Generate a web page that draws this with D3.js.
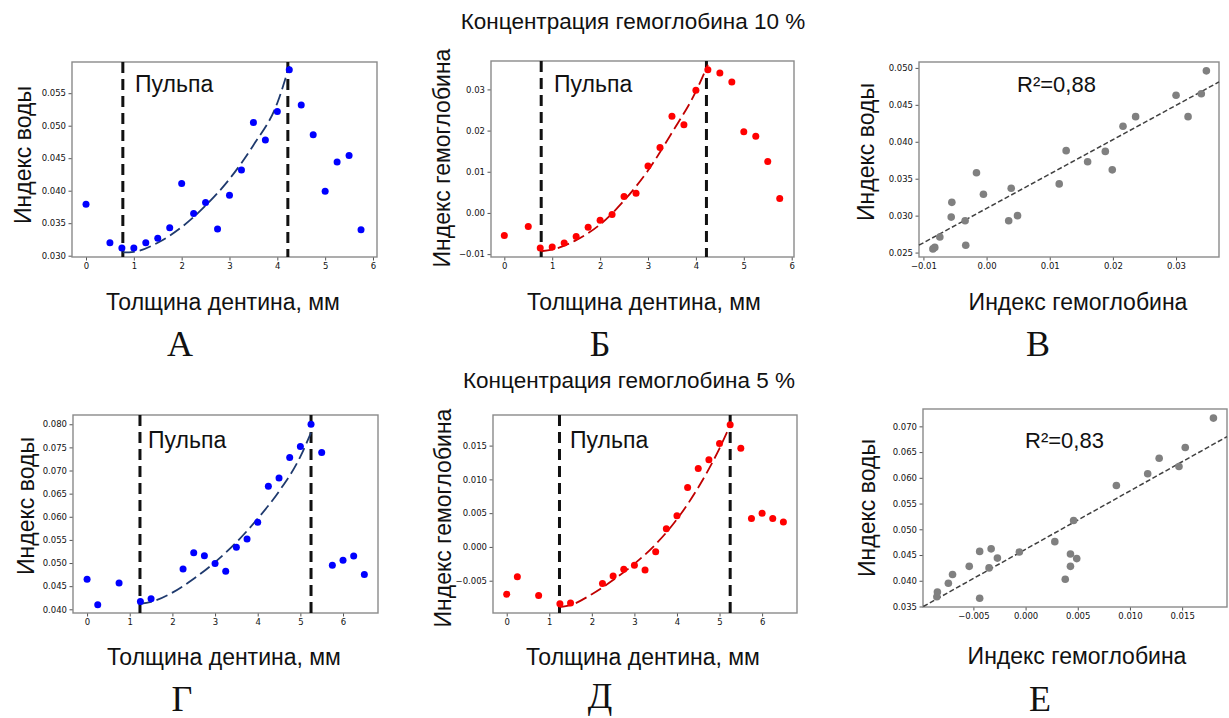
<!DOCTYPE html>
<html>
<head>
<meta charset="utf-8">
<title>Концентрация гемоглобина</title>
<style>
	body { margin: 0; background: #fff; }
	.tick text { font-family: "DejaVu Sans", sans-serif; font-size: 8.5px; fill: #111; }
	.tick line { stroke: #555; }
	.domain { display: none; }
	.lbl { font-family: "Liberation Sans", Arial, sans-serif; fill: #111; }
	.letter { font-family: "Liberation Serif", "Times New Roman", serif; font-size: 36px; fill: #111; }
</style>
</head>
<body>
<svg id="svg" width="1229" height="718"></svg>
<script src="https://cdn.jsdelivr.net/npm/d3@7"></script>
<script>
// ---- data ----
// 10 % hemoglobin
const thick10 = [0, 0.5, 0.75, 1, 1.25, 1.5, 1.75, 2, 2.25, 2.5, 2.75, 3, 3.25, 3.5, 3.75, 4, 4.25, 4.5, 4.75, 5, 5.25, 5.5, 5.75]
const water10 = [0.0379, 0.0320, 0.0312, 0.0312, 0.0320, 0.0327, 0.0343, 0.0411, 0.0365, 0.0382, 0.0341, 0.0393, 0.0432, 0.0505, 0.0478, 0.0522, 0.0586, 0.0532, 0.0486, 0.0399, 0.0444, 0.0454, 0.0340]
const hemo10 = [-0.0055, -0.0033, -0.0085, -0.0083, -0.0073, -0.0057, -0.0035, -0.0018, -0.0004, 0.0040, 0.0048, 0.0114, 0.0159, 0.0235, 0.0214, 0.0298, 0.0348, 0.0340, 0.0318, 0.0197, 0.0186, 0.0125, 0.0035]
const corrHemo10 = [-0.0085, -0.0082, -0.0074, -0.0055, -0.0056, -0.0034, -0.0033, -0.0016, -0.0005, 0.0035, 0.0039, 0.0049, 0.0115, 0.0126, 0.0160, 0.0188, 0.0199, 0.0216, 0.0236, 0.0300, 0.0319, 0.0340, 0.0348]
const corrWater10 = [0.0255, 0.0257, 0.0271, 0.0318, 0.0298, 0.0293, 0.0260, 0.0358, 0.0329, 0.0293, 0.0337, 0.0300, 0.0343, 0.0388, 0.0373, 0.0387, 0.0362, 0.0421, 0.0434, 0.0463, 0.0434, 0.0465, 0.0496]
const pulp10 = [0.77, 4.22]

// 5 % hemoglobin
const thick5 = [0, 0.25, 0.75, 1.25, 1.5, 2.25, 2.5, 2.75, 3, 3.25, 3.5, 3.75, 4, 4.25, 4.5, 4.75, 5, 5.25, 5.5, 5.75, 6, 6.25, 6.5]
const water5 = [0.0465, 0.0410, 0.0457, 0.0417, 0.0423, 0.0487, 0.0522, 0.0516, 0.0499, 0.0482, 0.0534, 0.0552, 0.0588, 0.0666, 0.0684, 0.0728, 0.0752, 0.0800, 0.0739, 0.0495, 0.0506, 0.0515, 0.0475]
const hemo5 = [-0.0070, -0.0044, -0.0072, -0.0084, -0.0083, -0.0054, -0.0043, -0.0033, -0.0027, -0.0034, -0.0007, 0.0027, 0.0046, 0.0088, 0.0116, 0.0129, 0.0153, 0.0181, 0.0146, 0.0042, 0.0050, 0.0042, 0.0037]
const corrHemo5 = [-0.00845, -0.0085, -0.0074, -0.0070, -0.0054, -0.0044, -0.0044, -0.0035, -0.0033, -0.0027, -0.0006, 0.0028, 0.0038, 0.0043, 0.0043, 0.0046, 0.0049, 0.0087, 0.0117, 0.0128, 0.0147, 0.0153, 0.0180]
const corrWater5 = [0.0378, 0.0369, 0.0395, 0.0412, 0.0428, 0.0366, 0.0457, 0.0425, 0.0462, 0.0444, 0.0456, 0.0476, 0.0403, 0.0452, 0.0428, 0.0517, 0.0443, 0.0585, 0.0608, 0.0638, 0.0622, 0.0659, 0.0716]
const pulp5 = [1.24, 5.25]

// fitted curves
const fitA_x = [0.77, 1.0, 1.5, 2.0, 2.5, 3.0, 3.5, 4.0, 4.25]
const fitA_y = [0.0305, 0.0306, 0.0320, 0.0344, 0.0377, 0.0418, 0.0470, 0.0535, 0.0592]
const fitB_x = [0.77, 1.0, 1.5, 2.0, 2.5, 3.0, 3.5, 4.0, 4.25]
const fitB_y = [-0.0093, -0.0089, -0.0066, -0.0028, 0.0030, 0.0103, 0.0195, 0.0295, 0.0360]
const fitG_x = [1.24, 1.5, 2.0, 2.5, 3.0, 3.5, 4.0, 4.5, 5.0, 5.25]
const fitG_y = [0.0412, 0.0416, 0.0436, 0.0466, 0.0502, 0.0545, 0.0596, 0.0655, 0.0730, 0.0782]
const fitD_x = [1.24, 1.5, 2.0, 2.5, 3.0, 3.5, 4.0, 4.5, 5.0, 5.25]
const fitD_y = [-0.0089, -0.0086, -0.0070, -0.0049, -0.0025, 0.0004, 0.0041, 0.0088, 0.0146, 0.0180]
const fitV_x = [-0.0107, 0.0368]
const fitV_y = [0.0260, 0.0481]
const fitE_x = [-0.0098, 0.0193]
const fitE_y = [0.0350, 0.0680]

// tick labels
const thickTicks = [0, 1, 2, 3, 4, 5, 6]
const ticksA = [0.030, 0.035, 0.040, 0.045, 0.050, 0.055]
const ticksB = [-0.01, 0.00, 0.01, 0.02, 0.03]
const ticksVx = [-0.01, 0.00, 0.01, 0.02, 0.03]
const ticksVy = [0.025, 0.030, 0.035, 0.040, 0.045, 0.050]
const ticksG = [0.040, 0.045, 0.050, 0.055, 0.060, 0.065, 0.070, 0.075, 0.080]
const ticksD = [-0.005, 0.000, 0.005, 0.010, 0.015]
const ticksEx = [-0.005, 0.000, 0.005, 0.010, 0.015]
const ticksEy = [0.035, 0.040, 0.045, 0.050, 0.055, 0.060, 0.065, 0.070]

const zip = (a, b) => a.map((v, i) => [v, b[i]])

const svg = d3.select('#svg')

// panel set up
const panels = [
	{ left: 72, right: 377, top: 62, bottom: 257, xDom: [-0.293, 6.084], yDom: [0.0298, 0.0598],
	  pts: zip(thick10, water10), color: '#0000ff', fit: zip(fitA_x, fitA_y), fitColor: '#1f3a6e', pulp: pulp10,
	  xTicks: thickTicks, yTicks: ticksA, xFmt: d3.format('d'), yFmt: d3.format('.3f'),
	  ylab: 'Индекс воды', ylabPos: [23, 155], xlab: 'Толщина дентина, мм', xlabPos: [223, 310],
	  note: 'Пульпа', notePos: [135, 92], letter: 'А', letterPos: [180, 356] },
	{ left: 491, right: 794, top: 61, bottom: 257, xDom: [-0.278, 6.048], yDom: [-0.0107, 0.0369],
	  pts: zip(thick10, hemo10), color: '#ff0000', fit: zip(fitB_x, fitB_y), fitColor: '#c00000', pulp: pulp10,
	  xTicks: thickTicks, yTicks: ticksB, xFmt: d3.format('d'), yFmt: d3.format('.2f'),
	  ylab: 'Индекс гемоглобина', ylabPos: [442, 158], xlab: 'Толщина дентина, мм', xlabPos: [644, 310],
	  note: 'Пульпа', notePos: [554, 92], letter: 'Б', letterPos: [600, 356] },
	{ left: 919, right: 1219, top: 62, bottom: 257, xDom: [-0.0107, 0.0368], yDom: [0.0244, 0.0508],
	  pts: zip(corrHemo10, corrWater10), color: '#808080', line: zip(fitV_x, fitV_y),
	  xTicks: ticksVx, yTicks: ticksVy, xFmt: d3.format('.2f'), yFmt: d3.format('.3f'),
	  ylab: 'Индекс воды', ylabPos: [866, 152], xlab: 'Индекс гемоглобина', xlabPos: [1078, 310],
	  r2: '0,88', notePos: [1017, 92], letter: 'В', letterPos: [1038, 356] },
	{ left: 73, right: 378, top: 415, bottom: 613, xDom: [-0.33, 6.82], yDom: [0.0392, 0.0820],
	  pts: zip(thick5, water5), color: '#0000ff', fit: zip(fitG_x, fitG_y), fitColor: '#1f3a6e', pulp: pulp5,
	  xTicks: thickTicks, yTicks: ticksG, xFmt: d3.format('d'), yFmt: d3.format('.3f'),
	  ylab: 'Индекс воды', ylabPos: [26, 506], xlab: 'Толщина дентина, мм', xlabPos: [224, 665],
	  note: 'Пульпа', notePos: [148, 448], letter: 'Г', letterPos: [182, 711] },
	{ left: 493, right: 797, top: 415, bottom: 613, xDom: [-0.322, 6.82], yDom: [-0.00978, 0.01953],
	  pts: zip(thick5, hemo5), color: '#ff0000', fit: zip(fitD_x, fitD_y), fitColor: '#c00000', pulp: pulp5,
	  xTicks: thickTicks, yTicks: ticksD, xFmt: d3.format('d'), yFmt: d3.format('.3f'),
	  ylab: 'Индекс гемоглобина', ylabPos: [443, 518], xlab: 'Толщина дентина, мм', xlabPos: [643, 665],
	  note: 'Пульпа', notePos: [570, 448], letter: 'Д', letterPos: [600, 708] },
	{ left: 923, right: 1227, top: 409, bottom: 607, xDom: [-0.00983, 0.0193], yDom: [0.0349, 0.07337],
	  pts: zip(corrHemo5, corrWater5), color: '#808080', line: zip(fitE_x, fitE_y),
	  xTicks: ticksEx, yTicks: ticksEy, xFmt: d3.format('.3f'), yFmt: d3.format('.3f'),
	  ylab: 'Индекс воды', ylabPos: [867, 508], xlab: 'Индекс гемоглобина', xlabPos: [1077, 664],
	  r2: '0,83', notePos: [1025, 448], letter: 'Е', letterPos: [1040, 711] }
]

// titles
svg.append('text').attr('class', 'lbl').attr('x', 633).attr('y', 29)
	.attr('text-anchor', 'middle').style('font-size', '22.5px')
	.text('Концентрация гемоглобина 10 %')
svg.append('text').attr('class', 'lbl').attr('x', 629).attr('y', 388)
	.attr('text-anchor', 'middle').style('font-size', '22.5px')
	.text('Концентрация гемоглобина 5 %')

panels.forEach(p => {
	const x = d3.scaleLinear().domain(p.xDom).range([p.left, p.right])
	const y = d3.scaleLinear().domain(p.yDom).range([p.bottom, p.top])
	const g = svg.append('g')

	// axes
	g.append('g').attr('transform', `translate(0,${p.bottom})`)
		.call(d3.axisBottom(x).tickValues(p.xTicks).tickFormat(p.xFmt).tickSize(3.5).tickPadding(2.5))
	g.append('g').attr('transform', `translate(${p.left},0)`)
		.call(d3.axisLeft(y).tickValues(p.yTicks).tickFormat(p.yFmt).tickSize(3.5).tickPadding(2.5))

	// frame
	g.append('rect')
		.attr('x', p.left).attr('y', p.top)
		.attr('width', p.right - p.left).attr('height', p.bottom - p.top)
		.attr('fill', 'none').attr('stroke', '#8a8a8a').attr('stroke-width', 1.4)

	// pulp borders
	if (p.pulp) {
		g.selectAll('.pulp').data(p.pulp).enter().append('line')
			.attr('x1', d => x(d)).attr('x2', d => x(d))
			.attr('y1', p.top).attr('y2', p.bottom)
			.attr('stroke', '#111').attr('stroke-width', 3)
			.attr('stroke-dasharray', '11,6')
	}

	// polynomial fit
	if (p.fit) {
		g.append('path').datum(p.fit)
			.attr('d', d3.line().x(d => x(d[0])).y(d => y(d[1])).curve(d3.curveMonotoneX))
			.attr('fill', 'none').attr('stroke', p.fitColor).attr('stroke-width', 1.8)
			.attr('stroke-dasharray', '12,5')
	}

	// linear regression
	if (p.line) {
		g.append('path').datum(p.line)
			.attr('d', d3.line().x(d => x(d[0])).y(d => y(d[1])))
			.attr('fill', 'none').attr('stroke', '#404040').attr('stroke-width', 1.5)
			.attr('stroke-dasharray', '5,2.5')
	}

	// dots
	g.selectAll('.dot').data(p.pts).enter().append('circle')
		.attr('cx', d => x(d[0])).attr('cy', d => y(d[1]))
		.attr('r', p.color === '#808080' ? 3.8 : 3.5)
		.attr('fill', p.color)

	// labels
	g.append('text').attr('class', 'lbl')
		.attr('transform', `translate(${p.ylabPos[0]},${p.ylabPos[1]}) rotate(-90)`)
		.attr('text-anchor', 'middle').attr('dy', '0.35em')
		.style('font-size', '23px').text(p.ylab)
	g.append('text').attr('class', 'lbl')
		.attr('x', p.xlabPos[0]).attr('y', p.xlabPos[1])
		.attr('text-anchor', 'middle').style('font-size', '23px').text(p.xlab)

	if (p.note) {
		g.append('text').attr('class', 'lbl')
			.attr('x', p.notePos[0]).attr('y', p.notePos[1])
			.style('font-size', '23px').text(p.note)
	}
	if (p.r2) {
		g.append('text').attr('class', 'lbl')
			.attr('x', p.notePos[0]).attr('y', p.notePos[1])
			.style('font-size', '22px').text('R²=' + p.r2)
	}

	g.append('text').attr('class', 'letter')
		.attr('x', p.letterPos[0]).attr('y', p.letterPos[1])
		.attr('text-anchor', 'middle').text(p.letter)
})
</script>
</body>
</html>
